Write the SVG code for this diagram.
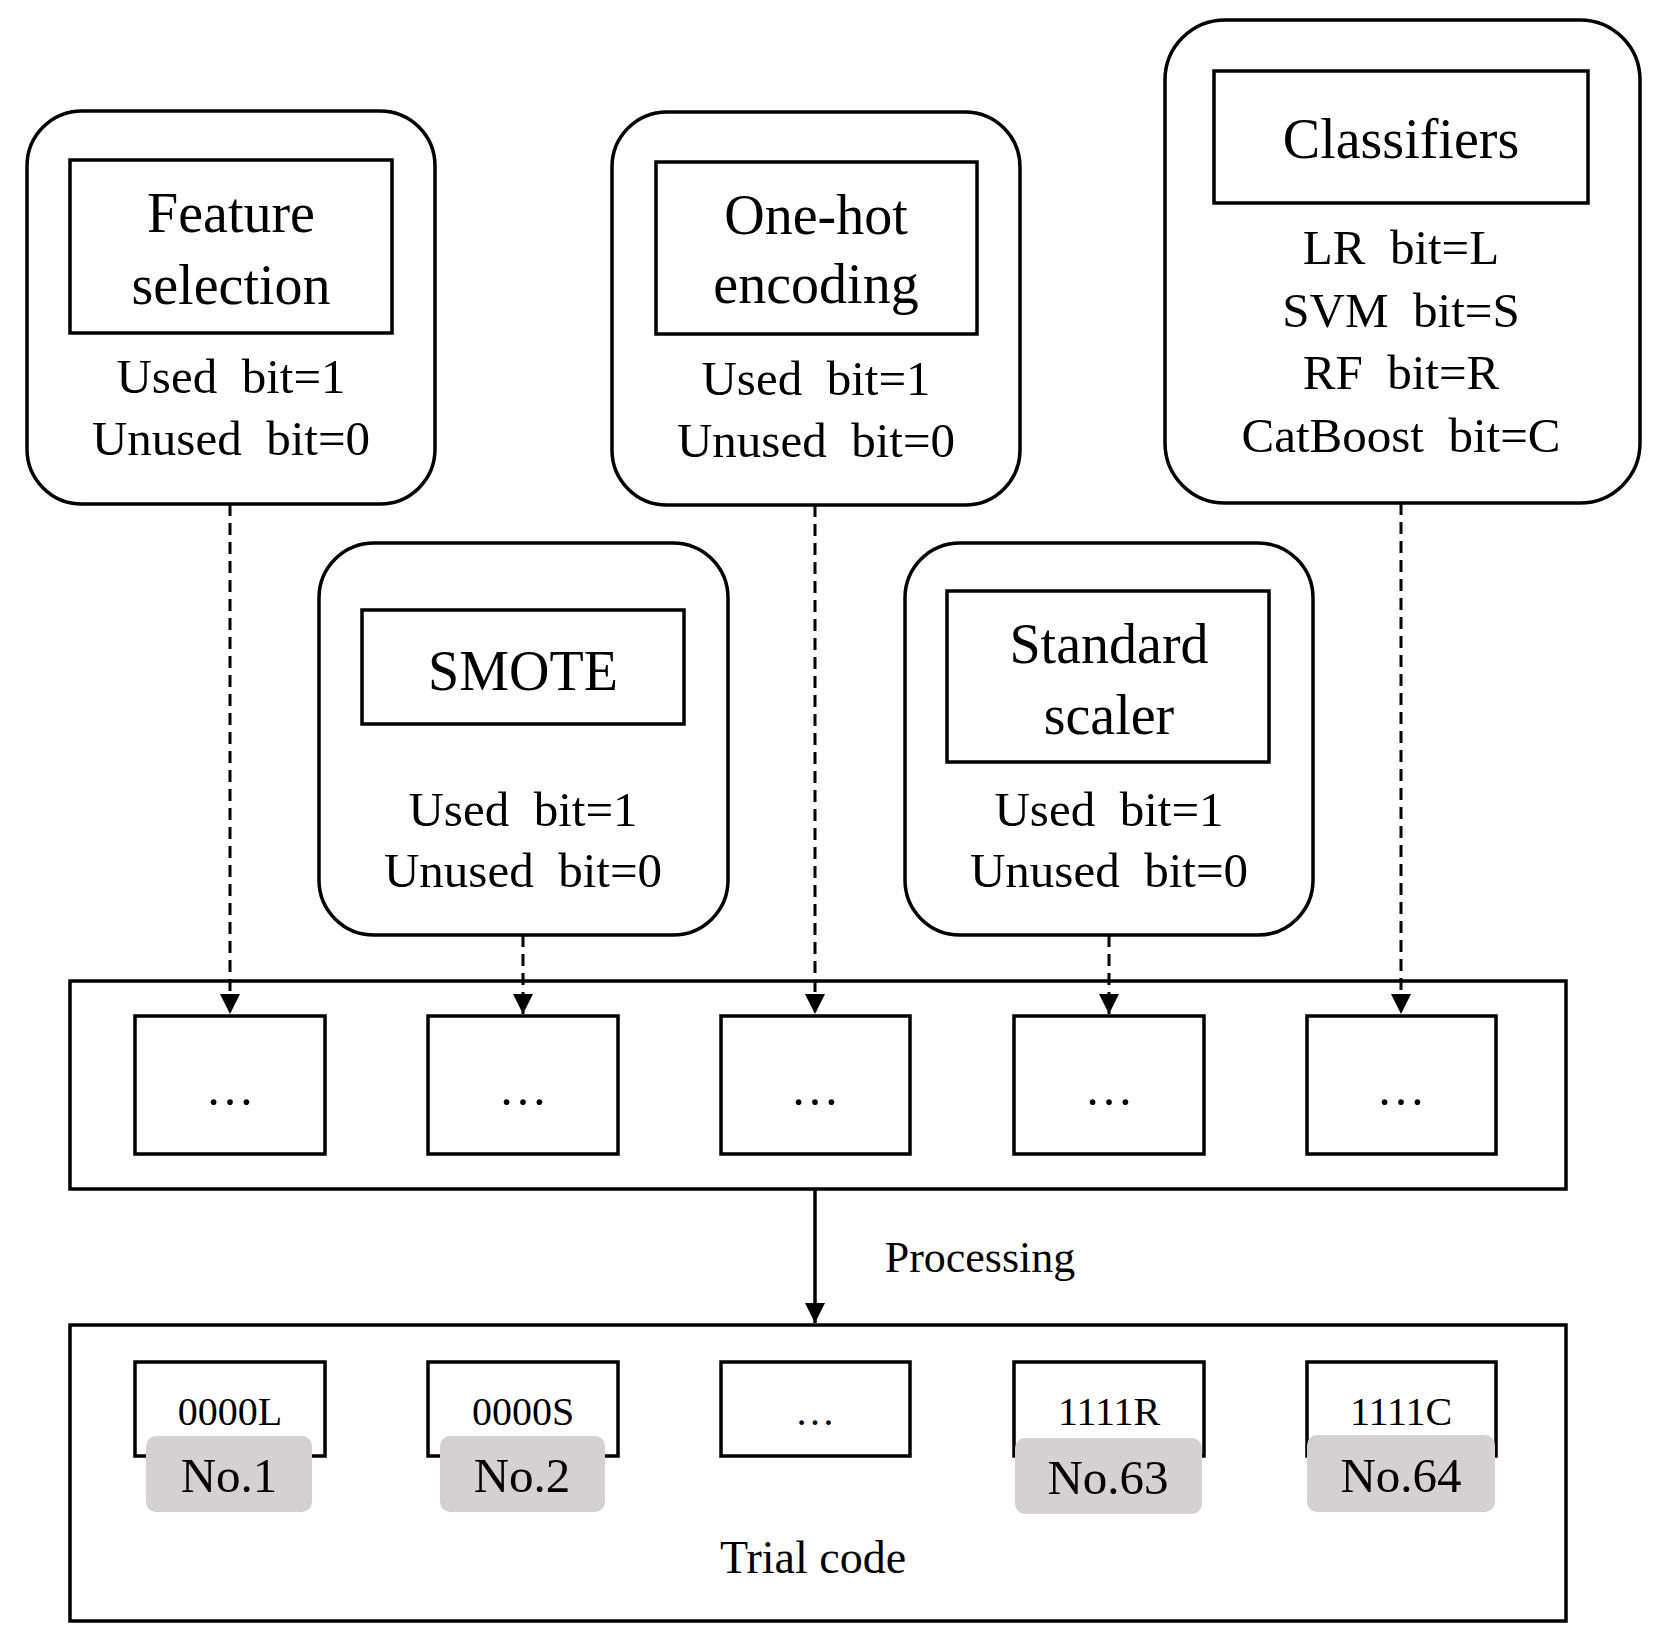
<svg xmlns="http://www.w3.org/2000/svg" width="1655" height="1644" viewBox="0 0 1655 1644" xml:space="preserve">
<style>
.r{fill:#fff;stroke:#000;stroke-width:3.5}
.t{font-family:"Liberation Serif",serif;text-anchor:middle;fill:#000;white-space:pre}
.h{font-size:56px}.b{font-size:49px}.s{font-size:40px}.g{fill:#d3d1d2}
.d{stroke:#000;stroke-width:3;stroke-dasharray:12 7;fill:none}
</style>
<defs><marker id="m" viewBox="0 0 10 10" markerWidth="20" markerHeight="24" refX="10" refY="5" orient="auto" markerUnits="userSpaceOnUse"><path d="M0,0 L10,5 L0,10 z"/></marker></defs>
<rect width="1655" height="1644" fill="#fff"/>
<g id="feature"><rect class="r" x="27" y="111" width="408" height="393" rx="55"/><rect class="r" x="70" y="160" width="322" height="173"/>
<text class="t h" x="231" y="232">Feature</text><text class="t h" x="231" y="304">selection</text>
<text class="t b" x="231" y="393">Used  bit=1</text><text class="t b" x="231" y="455">Unused  bit=0</text></g>
<g id="onehot"><rect class="r" x="612" y="112" width="408" height="393" rx="55"/><rect class="r" x="656" y="162" width="321" height="172"/>
<text class="t h" x="816" y="234">One-hot</text><text class="t h" x="816" y="303">encoding</text>
<text class="t b" x="816" y="395">Used  bit=1</text><text class="t b" x="816" y="457">Unused  bit=0</text></g>
<g id="classifiers"><rect class="r" x="1165" y="20" width="475" height="483" rx="60"/><rect class="r" x="1214" y="71" width="374" height="132"/>
<text class="t h" x="1401" y="158">Classifiers</text>
<text class="t b" x="1401" y="264">LR  bit=L</text><text class="t b" x="1401" y="327">SVM  bit=S</text>
<text class="t b" x="1401" y="389">RF  bit=R</text><text class="t b" x="1401" y="452">CatBoost  bit=C</text></g>
<g id="smote"><rect class="r" x="319" y="543" width="409" height="392" rx="55"/><rect class="r" x="362" y="610" width="322" height="114"/>
<text class="t h" x="523" y="690">SMOTE</text>
<text class="t b" x="523" y="826">Used  bit=1</text><text class="t b" x="523" y="887">Unused  bit=0</text></g>
<g id="scaler"><rect class="r" x="905" y="543" width="408" height="392" rx="55"/><rect class="r" x="947" y="591" width="322" height="171"/>
<text class="t h" x="1109" y="663">Standard</text><text class="t h" x="1109" y="734">scaler</text>
<text class="t b" x="1109" y="826">Used  bit=1</text><text class="t b" x="1109" y="887">Unused  bit=0</text></g>
<g id="bits"><rect class="r" x="70" y="981" width="1496" height="208"/>
<rect class="r" x="135" y="1016" width="190" height="138"/><rect class="r" x="428" y="1016" width="190" height="138"/><rect class="r" x="721" y="1016" width="189" height="138"/><rect class="r" x="1014" y="1016" width="190" height="138"/><rect class="r" x="1307" y="1016" width="189" height="138"/>
<text class="t b" x="230" y="1105">…</text><text class="t b" x="523" y="1105">…</text><text class="t b" x="815" y="1105">…</text><text class="t b" x="1109" y="1105">…</text><text class="t b" x="1401" y="1105">…</text></g>
<g id="trial"><rect class="r" x="70" y="1325" width="1496" height="296"/>
<rect class="r" x="135" y="1362" width="190" height="94"/><rect class="r" x="428" y="1362" width="190" height="94"/><rect class="r" x="721" y="1362" width="189" height="94"/><rect class="r" x="1014" y="1362" width="190" height="94"/><rect class="r" x="1307" y="1362" width="189" height="94"/>
<text class="t s" x="230" y="1425">0000L</text><text class="t s" x="523" y="1425">0000S</text><text class="t s" x="815" y="1425">…</text><text class="t s" x="1109" y="1425">1111R</text><text class="t s" x="1401" y="1425">1111C</text>
<rect class="g" x="146" y="1436" width="166" height="76" rx="10"/><rect class="g" x="440" y="1436" width="165" height="76" rx="10"/><rect class="g" x="1015" y="1438" width="187" height="76" rx="10"/><rect class="g" x="1307" y="1435" width="188" height="77" rx="10"/>
<text class="t b" x="229" y="1492">No.1</text><text class="t b" x="522" y="1492">No.2</text><text class="t b" x="1108" y="1494">No.63</text><text class="t b" x="1401" y="1492">No.64</text>
<text class="t b" x="813" y="1573" style="font-size:46px">Trial code</text></g>
<g id="connectors">
<path class="d" d="M230,504 V1014" marker-end="url(#m)"/>
<path class="d" d="M523,935 V1014" marker-end="url(#m)"/>
<path class="d" d="M815,505 V1014" marker-end="url(#m)"/>
<path class="d" d="M1109,935 V1014" marker-end="url(#m)"/>
<path class="d" d="M1401,503 V1014" marker-end="url(#m)"/>
<path d="M815,1189 V1323" stroke="#000" stroke-width="3.5" fill="none" marker-end="url(#m)"/>
<text class="t" x="980" y="1272" style="font-size:44px">Processing</text>
</g>
</svg>
